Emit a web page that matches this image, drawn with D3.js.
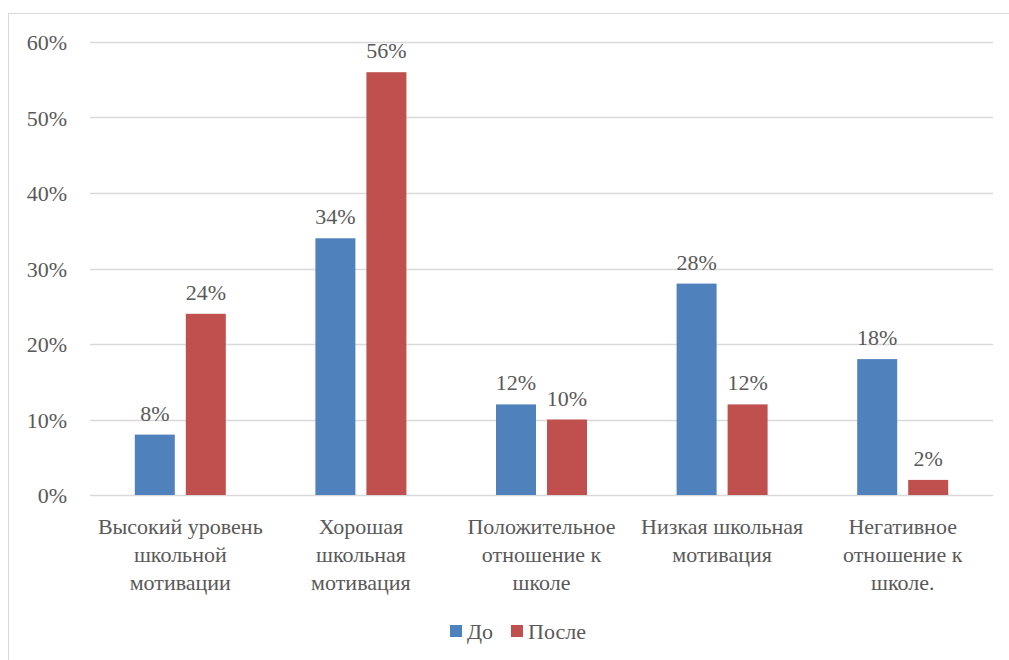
<!DOCTYPE html>
<html><head><meta charset="utf-8">
<script src="https://cdn.jsdelivr.net/npm/d3@7/dist/d3.min.js"></script>
<style>body{margin:0;background:#fff}svg{display:block}
svg text{font-family:"Liberation Serif","Tinos","Times New Roman","DejaVu Serif",serif;}</style>
</head><body>
<script>
const categories = [
  ["Высокий уровень","школьной","мотивации"],
  ["Хорошая","школьная","мотивация"],
  ["Положительное","отношение к","школе"],
  ["Низкая школьная","мотивация"],
  ["Негативное","отношение к","школе."]
];
const seriesNames = ["До","После"];
const before = [8,34,12,28,18];
const after = [24,56,10,12,2];
const yTicks = [0,10,20,30,40,50,60];
const colors = ["#4f81bd","#c0504d"];

(function(){
const W=1009,H=660;
const svg=d3.select("body").append("svg").attr("width",W).attr("height",H);
const fs=22;
const txt="#595959";

svg.append("rect").attr("x",8.5).attr("y",13.5).attr("width",W+10).attr("height",H+10)
  .attr("fill","none").attr("stroke","#d9d9d9").attr("stroke-width",1);

const pL=90,pR=993,pT=42,pB=495;
const y=d3.scaleLinear().domain([0,60]).range([pB,pT]);
const x=d3.scaleBand().domain(d3.range(categories.length)).range([pL,pR]).padding(0);
const bw=40, gap=11;

const g=svg.append("g");
g.selectAll("line.grid").data(yTicks).join("line")
  .attr("x1",pL).attr("x2",pR).attr("y1",d=>Math.round(y(d))+0.5).attr("y2",d=>Math.round(y(d))+0.5)
  .attr("stroke","#d9d9d9").attr("stroke-width",1.5);

g.selectAll("text.yt").data(yTicks).join("text")
  .attr("x",67).attr("y",d=>y(d)+8).attr("text-anchor","end")
  .attr("font-size",fs).attr("fill",txt).text(d=>d+"%");

const series=[before,after];
series.forEach((vals,si)=>{
  const cx=i=>x(i)+x.bandwidth()/2;
  const bx=i=> si===0 ? cx(i)-gap/2-bw : cx(i)+gap/2;
  g.selectAll("rect.s"+si).data(vals).join("rect")
    .attr("x",(d,i)=>bx(i)).attr("width",bw)
    .attr("y",d=>y(d)).attr("height",d=>pB-y(d))
    .attr("fill",colors[si]);
  g.selectAll("text.v"+si).data(vals).join("text")
    .attr("x",(d,i)=>bx(i)+bw/2).attr("y",d=>y(d)-14)
    .attr("text-anchor","middle").attr("font-size",fs).attr("fill",txt)
    .text(d=>d+"%");
});

categories.forEach((lines,i)=>{
  const t=g.append("text").attr("text-anchor","middle")
    .attr("font-size",fs).attr("fill",txt);
  lines.forEach((l,j)=>{
    t.append("tspan").attr("x",x(i)+x.bandwidth()/2).attr("y",534+j*28).text(l);
  });
});

const leg=svg.append("g");
const lx=[450,511];
seriesNames.forEach((n,i)=>{
  leg.append("rect").attr("x",lx[i]).attr("y",625).attr("width",12).attr("height",12).attr("fill",colors[i]);
  leg.append("text").attr("x",lx[i]+17).attr("y",639).attr("font-size",fs)
    .attr("fill",txt).text(n);
});
})();
</script>
</body></html>
